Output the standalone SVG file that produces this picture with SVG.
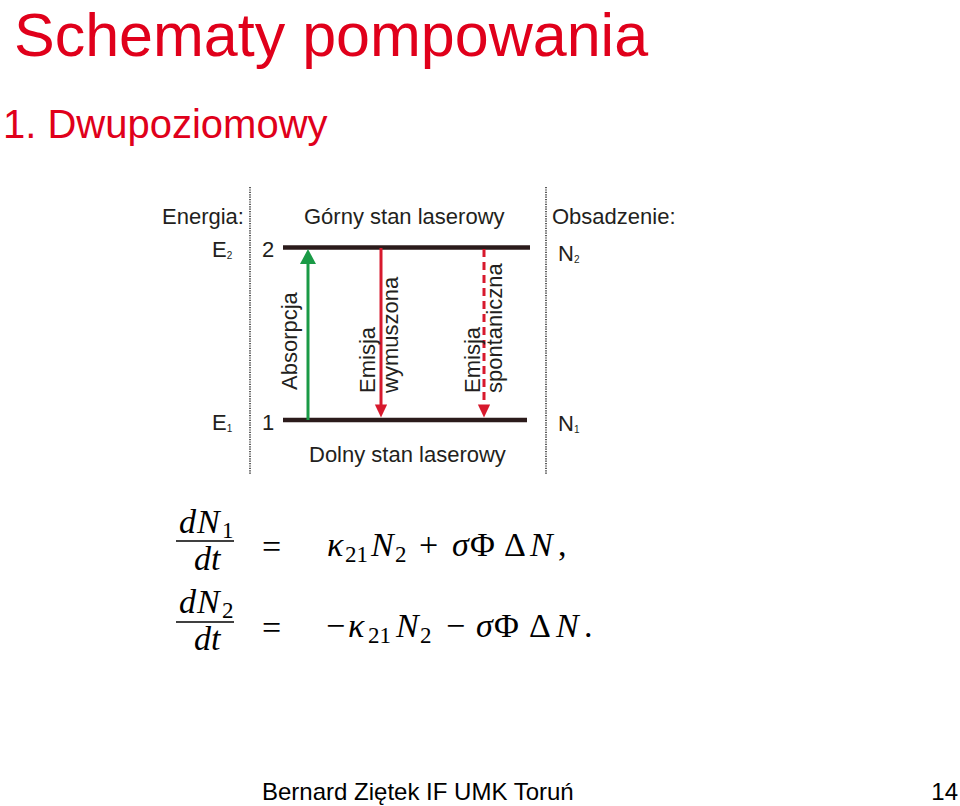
<svg xmlns="http://www.w3.org/2000/svg" width="960" height="806" viewBox="0 0 960 806">
<style>
.title{font-family:"Liberation Sans",Arial,sans-serif;fill:#e0001b}
.lbl{font-family:"Liberation Sans",Arial,sans-serif;font-size:22px;fill:#231f20}
.sub{font-family:"Liberation Sans",Arial,sans-serif;font-size:10px;fill:#231f20}
.m{font-family:"Liberation Serif","Times New Roman",serif;font-size:34px;fill:#000}
.mi{font-family:"Liberation Serif","Times New Roman",serif;font-size:34px;font-style:italic;fill:#000}
.ms{font-family:"Liberation Serif","Times New Roman",serif;font-size:23px;fill:#000}
.foot{font-family:"Liberation Sans",Arial,sans-serif;font-size:24px;fill:#000}
.dot{stroke:#333;stroke-width:1.6;stroke-dasharray:1.2 1.2;fill:none}
.level{stroke:#2b1b1b;stroke-width:4.5;fill:none}
.bar{stroke:#000;stroke-width:1.4}
</style>
<defs>
<marker id="ahG" viewBox="0 0 16 16" refX="3" refY="8" markerWidth="16" markerHeight="16" markerUnits="userSpaceOnUse" orient="auto">
<path d="M0,0 L15,8 L0,16 z" fill="#1a9a46"/>
</marker>
<marker id="ahR" viewBox="0 0 16 16" refX="3" refY="7" markerWidth="16" markerHeight="14" markerUnits="userSpaceOnUse" orient="auto">
<path d="M0,0 L15,7 L0,14 z" fill="#d7192d"/>
</marker>
</defs>
<rect width="960" height="806" fill="#fff"/>

<g id="title">
<text class="title" x="14" y="55.5" font-size="61">Schematy pompowania</text>
<text class="title" x="3" y="138" font-size="40">1. Dwupoziomowy</text>
</g>

<g id="frame">
<line class="dot" x1="250" y1="187" x2="250" y2="475"/>
<line class="dot" x1="546" y1="187" x2="546" y2="475"/>
<text class="lbl" x="162" y="224">Energia:</text>
<text class="lbl" x="552" y="224">Obsadzenie:</text>
</g>

<g id="level2">
<line class="level" x1="283" y1="247.5" x2="530" y2="247.5"/>
<text class="lbl" x="304" y="224">Górny stan laserowy</text>
<text class="lbl" x="212" y="257">E<tspan class="sub" dy="2">2</tspan></text>
<text class="lbl" x="262" y="257">2</text>
<text class="lbl" x="558" y="261">N<tspan class="sub" dy="2">2</tspan></text>
</g>

<g id="level1">
<line class="level" x1="283" y1="420" x2="527" y2="420"/>
<text class="lbl" x="309" y="462">Dolny stan laserowy</text>
<text class="lbl" x="212" y="430">E<tspan class="sub" dy="2">1</tspan></text>
<text class="lbl" x="262" y="430">1</text>
<text class="lbl" x="558" y="431">N<tspan class="sub" dy="2">1</tspan></text>
</g>

<g id="connectors">
<line x1="308" y1="420" x2="308" y2="261" stroke="#1a9a46" stroke-width="3" marker-end="url(#ahG)"/>
<line x1="381" y1="248" x2="381" y2="407" stroke="#d7192d" stroke-width="3" marker-end="url(#ahR)"/>
<line x1="484" y1="249" x2="484" y2="407" stroke="#d7192d" stroke-width="3" stroke-dasharray="8 5" marker-end="url(#ahR)"/>
</g>

<g id="labels-transitions">
<text class="lbl" transform="translate(297,390) rotate(-90)">Absorpcja</text>
<text class="lbl" transform="translate(375,393) rotate(-90)">Emisja</text>
<text class="lbl" transform="translate(398,393) rotate(-90)">wymuszona</text>
<text class="lbl" transform="translate(480,393) rotate(-90)">Emisja</text>
<text class="lbl" transform="translate(502,393) rotate(-90)">spontaniczna</text>
</g>

<g id="equation1">
<text class="mi" x="179" y="533">d</text>
<text class="mi" x="197" y="533">N</text>
<text class="ms" x="222" y="538">1</text>
<line class="bar" x1="176" y1="541" x2="234" y2="541"/>
<text class="mi" x="194" y="570">d</text>
<text class="mi" x="211" y="570">t</text>
<text class="m" x="262" y="558">=</text>
<text class="mi" x="327" y="556">κ</text>
<text class="ms" x="345" y="562">21</text>
<text class="mi" x="371" y="556">N</text>
<text class="ms" x="395" y="562">2</text>
<text class="m" x="419" y="556">+</text>
<text class="mi" x="452" y="556">σ</text>
<text class="m" x="470" y="556">Φ</text>
<text class="m" x="504" y="556">Δ</text>
<text class="mi" x="530" y="556">N</text>
<text class="m" x="558" y="556">,</text>
</g>

<g id="equation2">
<text class="mi" x="179" y="613">d</text>
<text class="mi" x="197" y="613">N</text>
<text class="ms" x="222" y="618">2</text>
<line class="bar" x1="176" y1="622" x2="234" y2="622"/>
<text class="mi" x="194" y="650">d</text>
<text class="mi" x="211" y="650">t</text>
<text class="m" x="262" y="639">=</text>
<text class="m" x="326" y="637">−</text>
<text class="mi" x="348" y="637">κ</text>
<text class="ms" x="368" y="643">21</text>
<text class="mi" x="396" y="637">N</text>
<text class="ms" x="420" y="643">2</text>
<text class="m" x="446" y="637">−</text>
<text class="mi" x="476" y="637">σ</text>
<text class="m" x="494" y="637">Φ</text>
<text class="m" x="529" y="637">Δ</text>
<text class="mi" x="556" y="637">N</text>
<text class="m" x="584" y="637">.</text>
</g>

<g id="footer">
<text class="foot" x="262" y="800">Bernard Ziętek IF UMK Toruń</text>
<text class="foot" x="958" y="800" text-anchor="end">14</text>
</g>
</svg>
